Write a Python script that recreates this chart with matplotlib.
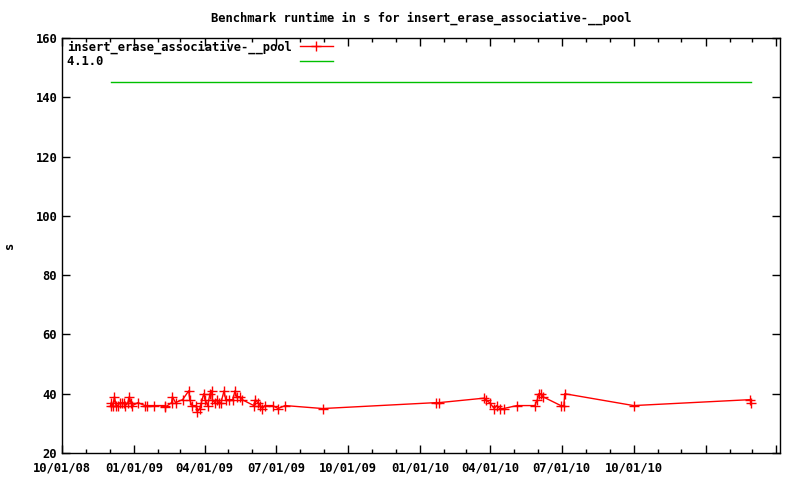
import datetime as dt

import matplotlib
matplotlib.use('Agg')
import matplotlib.pyplot as plt
import matplotlib.dates as mdates
from matplotlib.ticker import FuncFormatter

# Benchmark runs (date, runtime in s)
run_dates = [
    '2008-12-02', '2008-12-03', '2008-12-05', '2008-12-07', '2008-12-09',
    '2008-12-11', '2008-12-14', '2008-12-16', '2008-12-19', '2008-12-21',
    '2008-12-24', '2008-12-26', '2008-12-28', '2008-12-30', '2009-01-06',
    '2009-01-15', '2009-01-17', '2009-01-27', '2009-02-09', '2009-02-10',
    '2009-02-18', '2009-02-19', '2009-02-23', '2009-03-04', '2009-03-12',
    '2009-03-13', '2009-03-16', '2009-03-21', '2009-03-23', '2009-03-26',
    '2009-03-28', '2009-03-31', '2009-04-02', '2009-04-05', '2009-04-08',
    '2009-04-10', '2009-04-11', '2009-04-14', '2009-04-17', '2009-04-19',
    '2009-04-22', '2009-04-26', '2009-04-28', '2009-05-02', '2009-05-07',
    '2009-05-10', '2009-05-12', '2009-05-16', '2009-05-19', '2009-06-03',
    '2009-06-05', '2009-06-08', '2009-06-11', '2009-06-14', '2009-06-17',
    '2009-06-27', '2009-07-04', '2009-07-13', '2009-08-30', '2010-01-22',
    '2010-01-26', '2010-03-24', '2010-03-26', '2010-03-31', '2010-04-06',
    '2010-04-09', '2010-04-13', '2010-04-18', '2010-05-05', '2010-05-28',
    '2010-05-31', '2010-06-02', '2010-06-05', '2010-06-07', '2010-06-30',
    '2010-07-04', '2010-07-05', '2010-10-01', '2011-02-27', '2011-02-28',
]
run_times = [
    36, 37, 36, 39, 36, 36, 37, 37, 37, 36,
    37, 39, 37, 36, 37, 36, 36, 36, 36, 35.5,
    37, 39, 37, 38, 41, 38, 36, 36, 34, 35,
    37, 40, 38, 36, 40, 41, 38, 37, 38, 37,
    37, 41, 38, 38, 38, 41, 39, 39, 38, 36,
    38, 37, 36, 35, 36, 36, 35, 36, 35, 37,
    37, 38.5, 38, 37, 35, 36, 35, 35, 36, 36,
    38, 40, 40, 39, 36, 36, 40, 36, 38, 37,
]

# Reference compiler version runtime
ref_label = '4.1.0'
ref_time = 145

series_label = 'insert_erase_associative-__pool'
title = 'Benchmark runtime in s for insert_erase_associative-__pool'

# last date that gets a tick label (gnuplot left the later ones blank)
last_label = dt.datetime(2010, 12, 1)

x = [dt.datetime.strptime(d, '%Y-%m-%d') for d in run_dates]

FS = 8.7
plt.rcParams['font.family'] = 'DejaVu Sans Mono'
plt.rcParams['font.weight'] = 'bold'
plt.rcParams['font.size'] = FS
font = {'family': 'DejaVu Sans Mono', 'weight': 'bold', 'size': FS}

fig = plt.figure(figsize=(8, 4.8), dpi=100)
ax = fig.add_axes([0.0775, 0.05625, 0.8975, 0.86458])

ax.plot(x, run_times, color='#ff0000', linewidth=1, marker='+',
        markersize=7, markeredgewidth=1, label=series_label)
# pad the short label so both legend texts start at the same column
ax.plot([x[0], x[-1]], [ref_time, ref_time], color='#00c000',
        linewidth=1, label=ref_label.ljust(len(series_label), '\u00a0'))

ax.set_xlim(dt.datetime(2008, 10, 1), dt.datetime(2011, 4, 6))
ax.set_ylim(20, 160)
ax.set_yticks(range(20, 161, 20))
ax.xaxis.set_major_locator(mdates.MonthLocator(bymonth=[1, 4, 7, 10]))
ax.xaxis.set_major_formatter(FuncFormatter(
    lambda v, pos: '' if mdates.num2date(v).replace(tzinfo=None) > last_label
    else mdates.num2date(v).strftime('%m/%d/%y')))
ax.xaxis.set_minor_locator(mdates.MonthLocator())

ax.tick_params(which='both', direction='in', top=True, right=True,
               labelsize=FS, width=1, colors='black')
ax.tick_params(which='major', length=6)
ax.tick_params(which='minor', length=3)
ax.tick_params(axis='x', pad=6)
for side in ax.spines.values():
    side.set_linewidth(1)

ax.set_title(title, fontsize=FS, fontweight='bold', pad=12)
ax.set_ylabel('s', fontsize=FS, fontweight='bold', rotation=90, labelpad=14)

ax.legend(loc='upper left', bbox_to_anchor=(0.004, 1.0), frameon=False,
          markerfirst=False, handlelength=2.7, borderaxespad=0.1,
          borderpad=0.1, labelspacing=0.1, handletextpad=0.65, prop=font)

fig.savefig('out.png', dpi=100)
